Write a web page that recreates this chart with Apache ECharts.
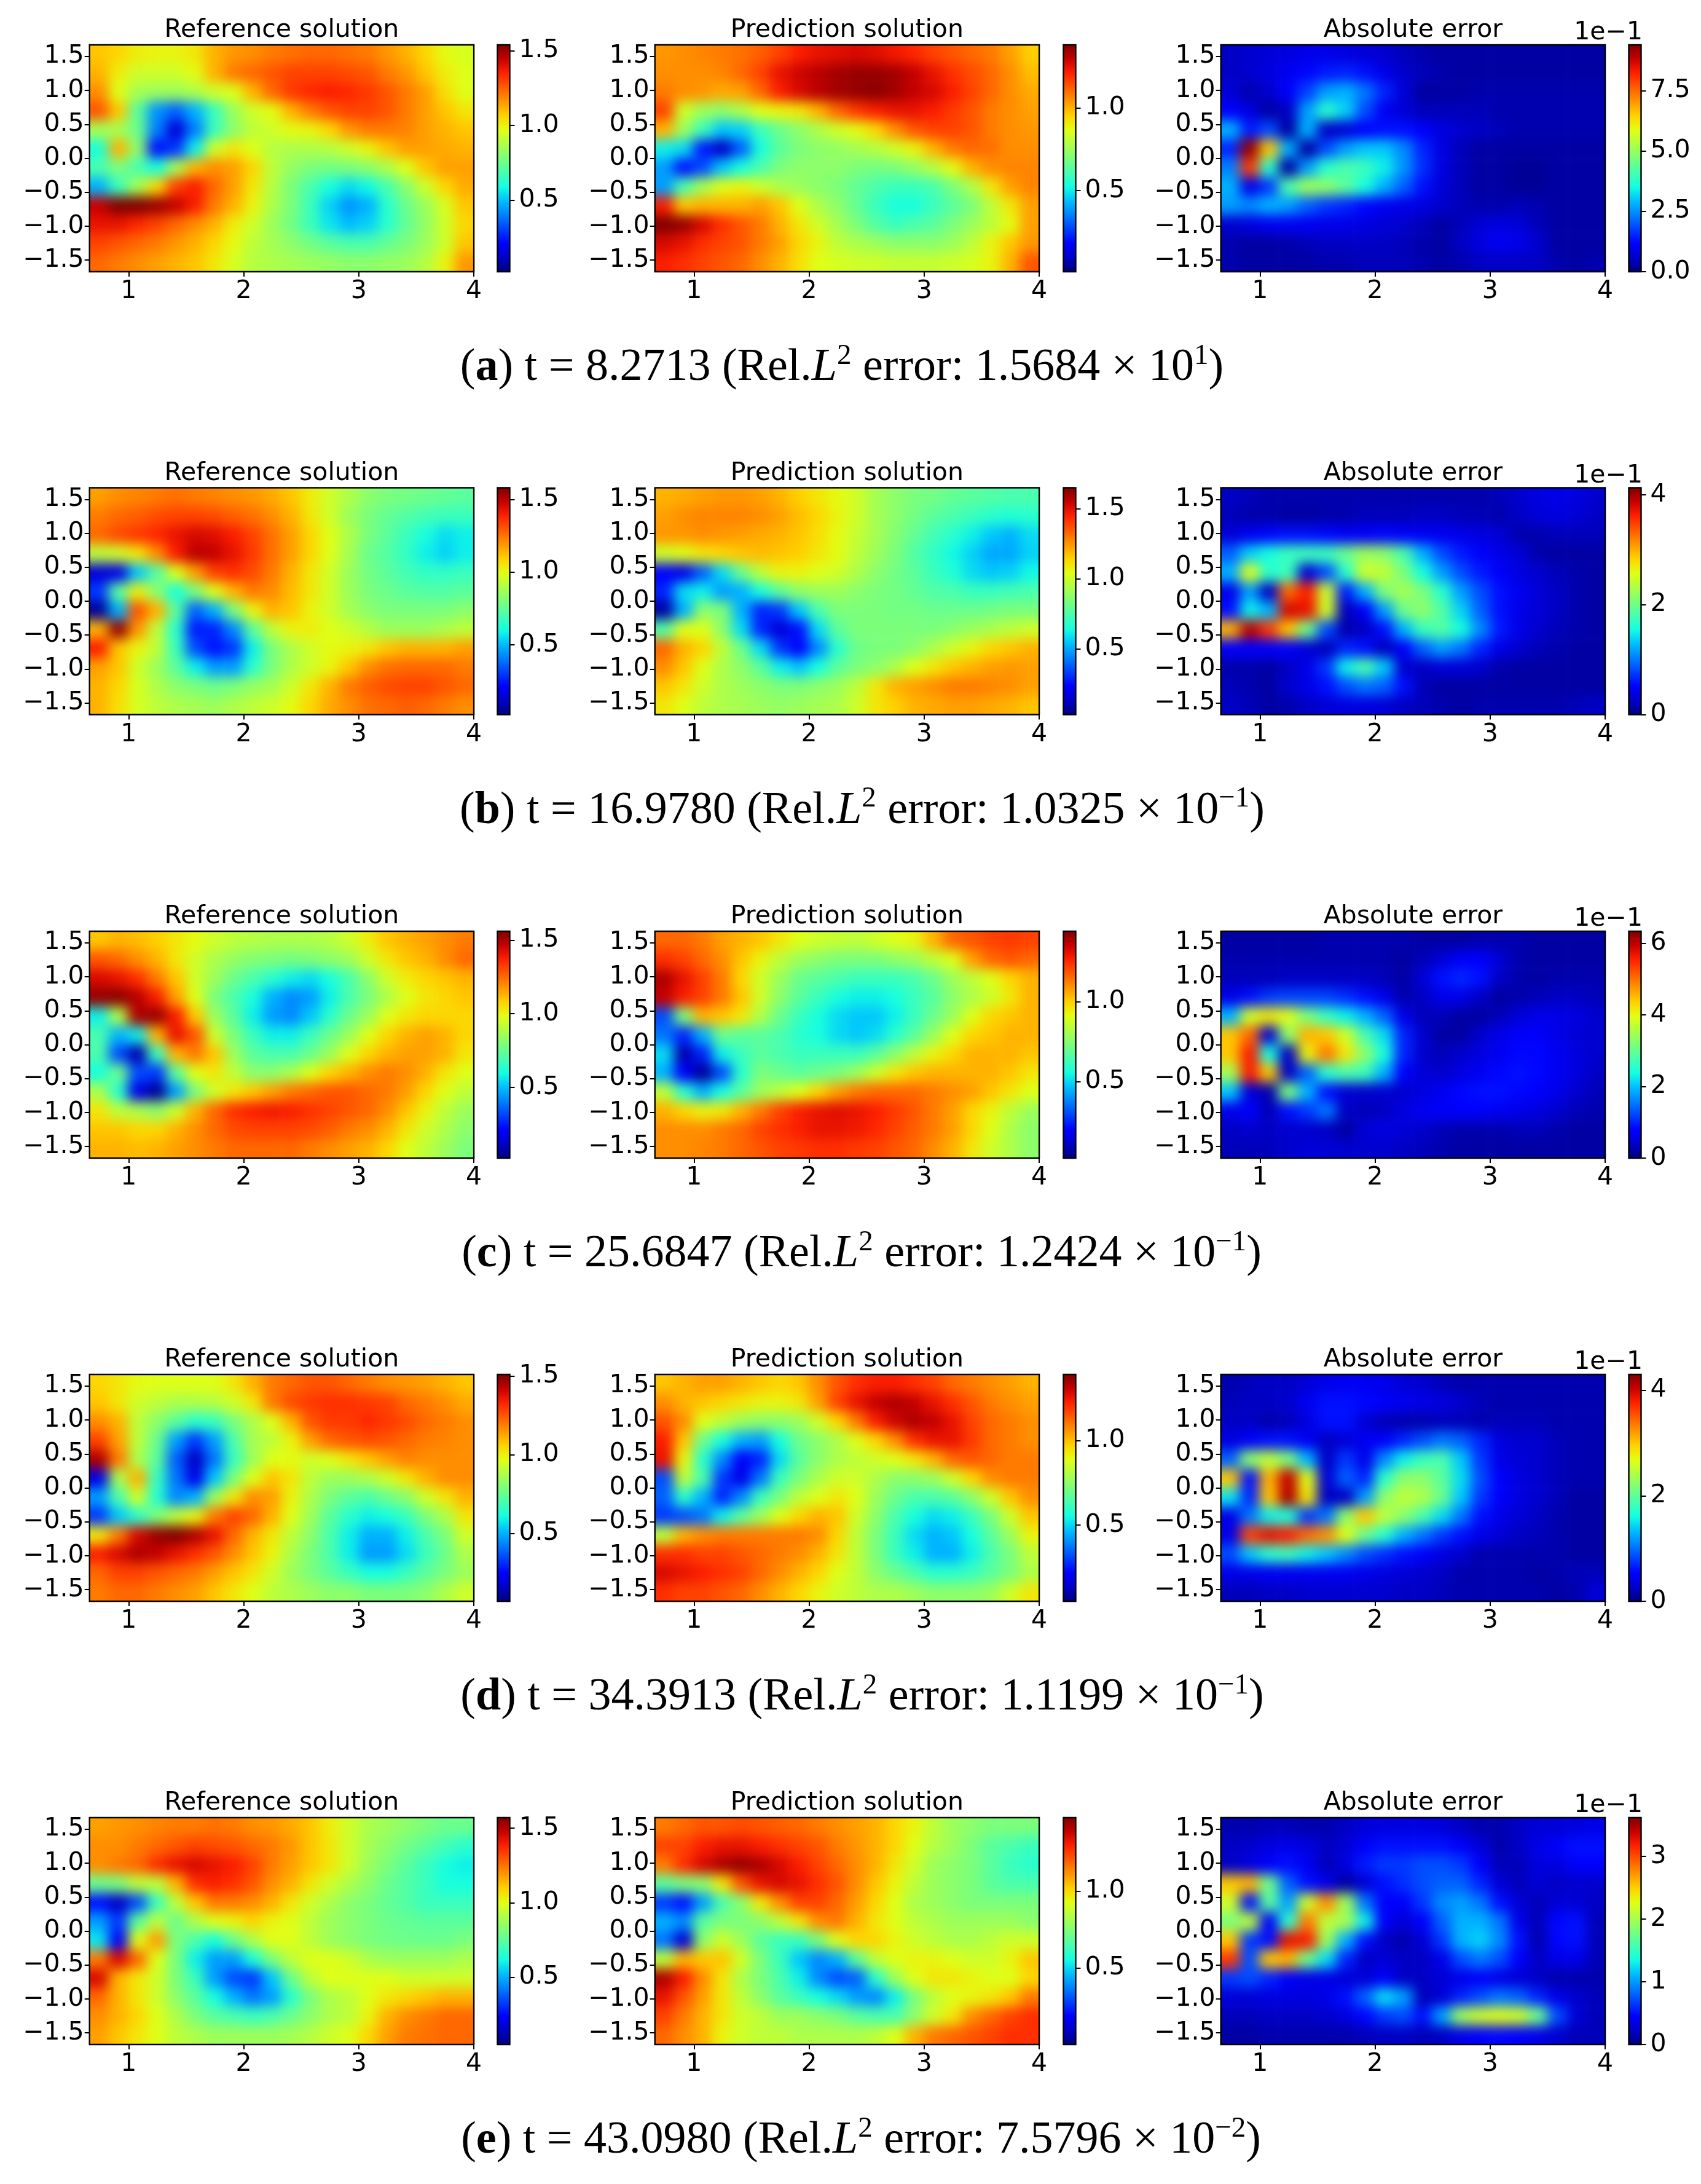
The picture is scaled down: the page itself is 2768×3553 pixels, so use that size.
<!DOCTYPE html>
<html>
<head>
<meta charset="utf-8">
<title>Reference, prediction and absolute error</title>
<script src="https://cdn.jsdelivr.net/npm/echarts@6/dist/echarts.min.js"></script>
<style>
  html, body { margin: 0; padding: 0; background: #fff; overflow: hidden; }
  #clip, #chart { position: absolute; left: 0; top: 0; width: 2768px; height: 3553px; }
  #field { width: 2768px; height: 3553px; filter: blur(10px); }
</style>
</head>
<body>
<div id="clip"><div id="field"></div></div>
<div id="chart"></div>
<script>
const refA = [
[70,68,65,64,64,66,72,75,76,78,79,80,80,79,78,75,72,68,63,61],
[72,65,60,60,60,63,72,78,80,82,84,84,84,83,82,78,75,70,65,62],
[76,62,55,54,54,56,60,62,72,80,85,87,88,87,85,82,78,74,67,62],
[82,70,46,27,22,30,42,54,60,63,72,78,82,84,84,82,78,74,70,66],
[55,55,48,25,8,25,42,52,58,60,63,64,68,75,78,78,77,74,72,70],
[38,72,52,14,18,36,60,66,62,57,56,56,57,60,64,70,74,74,73,72],
[44,50,44,38,55,72,76,74,68,58,53,50,49,50,52,56,62,70,74,74],
[30,42,55,68,84,88,80,74,66,57,50,44,38,34,37,44,52,60,68,73],
[94,100,100,98,94,88,78,72,64,56,50,42,33,27,30,40,48,54,61,70],
[90,90,87,84,80,76,72,65,60,54,49,42,35,31,33,40,47,53,60,68],
[84,82,80,78,75,72,68,63,58,55,52,49,46,44,44,47,50,54,60,70],
[80,78,76,74,72,70,66,61,57,56,55,54,53,52,52,53,54,57,64,75]];
const predA = [
[75,76,77,78,79,81,84,88,90,91,92,91,89,87,84,82,80,78,74,69],
[76,76,76,77,80,84,90,93,95,97,98,98,97,94,90,86,83,80,76,71],
[78,76,75,73,74,80,88,92,95,97,98,99,97,94,92,88,84,80,76,73],
[84,60,54,52,56,62,64,66,72,80,85,88,90,90,88,85,82,78,76,74],
[72,54,42,32,33,42,48,52,56,60,63,68,76,82,84,84,82,78,76,75],
[36,34,15,6,22,38,46,50,52,53,55,57,60,64,72,78,80,79,76,76],
[28,14,20,32,38,44,50,52,52,52,50,49,50,53,57,63,72,76,77,77],
[28,44,55,62,64,60,56,54,52,50,47,44,42,42,44,50,56,66,74,77],
[88,70,72,72,72,74,70,62,56,52,47,42,38,38,42,46,50,58,66,74],
[100,98,92,86,82,78,72,66,60,55,50,45,42,44,46,50,54,58,63,74],
[92,90,86,84,82,78,74,68,64,58,56,54,52,52,52,54,58,64,70,75],
[88,86,84,82,80,76,72,67,62,61,60,60,59,59,59,60,61,64,72,82]];
const errA = [
[6,7,8,9,10,10,9,8,7,5,4,3,3,3,3,3,3,3,3,3],
[6,7,9,11,13,15,16,14,10,7,5,4,3,3,3,3,3,3,3,3],
[8,4,7,12,19,28,30,24,16,8,3,3,3,4,4,4,4,4,4,4],
[12,9,3,6,28,40,33,20,11,8,5,5,5,5,4,4,4,4,4,4],
[30,15,20,3,30,6,8,12,14,14,12,9,7,6,5,4,4,4,4,4],
[16,98,70,30,3,20,28,32,32,26,16,9,5,3,3,3,3,3,3,3],
[25,85,40,3,28,40,44,42,36,27,17,9,5,3,3,2,2,3,3,3],
[30,10,18,44,54,52,46,38,30,22,14,8,5,3,3,2,2,3,3,3],
[28,26,30,28,22,18,16,13,11,10,9,7,5,4,4,5,4,3,3,3],
[7,9,11,11,11,10,10,9,8,7,5,3,5,8,9,8,5,3,3,3],
[4,3,3,4,5,6,6,6,6,5,4,3,6,9,11,10,7,3,3,3],
[4,3,3,3,3,4,4,5,5,5,4,3,4,6,6,6,6,4,3,4]];
const refB = [
[74,76,77,78,79,78,77,76,75,73,70,65,60,56,52,50,49,48,47,46],
[78,80,81,83,84,84,83,81,79,76,72,66,60,54,50,47,45,43,42,42],
[80,83,85,87,90,92,91,88,84,79,74,68,62,56,50,46,42,38,34,36],
[58,60,66,76,88,95,94,90,85,79,74,68,62,55,48,45,41,36,33,36],
[8,10,32,45,62,74,84,86,83,78,72,66,60,54,49,46,43,41,41,42],
[18,46,65,52,38,50,62,72,78,76,71,66,60,54,50,48,46,45,45,46],
[2,30,82,72,46,22,30,50,64,72,70,64,60,55,52,50,50,50,50,52],
[72,98,75,58,40,15,16,26,46,58,64,65,62,60,57,54,54,54,56,58],
[88,70,64,58,42,20,14,18,36,50,56,60,63,64,66,70,72,72,72,74],
[74,70,60,54,46,36,28,28,40,50,56,60,64,70,76,79,80,80,80,78],
[72,68,61,56,52,50,48,50,53,55,60,66,72,78,81,83,84,84,82,80],
[72,67,61,58,56,55,54,56,58,60,63,68,73,76,79,80,81,80,78,76]];
const predB = [
[72,73,74,75,75,74,72,69,66,63,60,55,52,50,49,47,46,45,44,44],
[74,76,77,77,77,76,74,71,68,64,60,55,52,49,46,44,42,40,39,40],
[75,75,76,75,74,73,72,70,67,63,59,55,51,47,43,40,36,32,30,34],
[60,62,66,68,70,71,70,69,66,63,58,54,50,45,41,37,33,29,29,33],
[12,10,22,34,48,58,64,64,62,60,56,52,49,46,42,39,34,32,33,37],
[16,34,36,28,30,38,46,52,54,54,52,50,49,47,45,44,42,42,43,44],
[3,30,52,50,30,16,18,32,44,50,50,50,49,49,48,48,48,49,50,50],
[45,62,62,52,34,16,8,14,34,46,50,50,50,50,50,52,54,56,58,60],
[80,72,68,58,48,34,18,12,26,40,48,50,50,52,56,60,64,68,70,72],
[76,70,62,56,52,46,36,32,38,46,50,52,56,62,66,70,72,74,75,74],
[70,66,60,56,54,52,50,50,52,54,58,66,72,74,76,78,78,77,76,74],
[66,62,58,56,55,54,53,54,55,56,60,66,69,72,73,74,74,73,72,70]];
const errB = [
[6,5,4,4,4,4,4,4,4,4,4,4,4,4,5,7,9,10,9,7],
[5,4,4,3,3,4,4,5,5,5,6,6,5,5,4,6,8,9,8,6],
[8,11,13,14,14,13,12,12,13,12,11,11,10,9,8,4,4,5,5,5],
[22,33,38,42,42,42,48,54,52,44,30,20,15,12,10,8,4,3,3,3],
[30,62,40,42,8,20,40,60,58,50,38,28,20,15,12,9,7,5,4,3],
[10,28,6,80,88,60,15,30,50,55,50,40,28,20,14,11,8,6,4,3],
[14,36,30,92,90,60,5,12,28,48,52,45,33,22,14,10,8,6,4,3],
[72,95,85,70,48,20,4,6,14,30,42,45,38,26,15,10,7,5,4,3],
[12,12,12,12,8,5,16,14,5,12,22,28,24,16,10,7,5,4,3,3],
[4,4,3,6,10,18,36,44,32,7,6,8,8,7,4,3,3,3,3,3],
[5,4,3,7,10,14,20,24,22,14,5,3,3,3,3,3,3,3,3,3],
[6,5,3,4,6,8,9,9,8,6,5,4,3,4,4,4,4,4,5,6]];
const refC = [
[70,72,71,69,66,63,60,58,57,56,56,56,57,60,65,70,72,74,76,78],
[82,80,76,72,66,60,56,53,51,50,49,50,52,54,60,66,70,72,76,80],
[92,90,86,78,70,60,54,48,44,40,36,34,38,44,52,60,65,68,70,72],
[98,99,95,88,74,62,50,44,38,30,26,28,36,44,50,56,62,66,68,70],
[36,56,96,98,88,70,54,46,36,28,26,32,40,48,54,62,66,68,68,68],
[44,30,36,72,90,82,60,50,42,36,36,42,48,54,62,68,72,74,72,68],
[44,20,4,42,72,78,70,54,46,44,44,48,54,62,68,72,74,74,72,66],
[38,48,20,18,46,62,66,58,52,52,56,62,68,72,76,78,76,72,66,62],
[56,40,10,2,28,50,60,66,70,74,78,80,82,82,80,78,74,68,62,58],
[66,58,56,52,60,72,80,86,88,89,88,86,84,82,80,76,70,64,58,54],
[70,70,68,68,72,76,80,83,84,84,84,83,81,78,76,72,66,60,56,52],
[72,72,71,72,74,76,78,80,80,80,80,78,76,74,72,68,62,58,54,50]];
const predC = [
[80,80,78,74,72,70,66,62,60,59,58,60,62,64,72,80,82,84,85,84],
[86,84,80,76,70,64,58,54,52,50,50,50,52,54,58,62,74,80,82,80],
[96,90,84,78,68,60,54,48,46,44,42,42,42,44,48,54,58,62,68,72],
[94,88,84,78,70,60,52,46,42,38,36,36,38,42,46,52,56,60,66,72],
[20,50,72,70,66,56,48,42,38,34,32,32,36,42,48,54,62,68,70,72],
[24,16,30,48,46,46,44,40,38,34,32,34,40,46,54,62,68,70,72,72],
[34,4,16,36,42,46,44,42,42,42,42,46,52,58,64,68,72,72,72,70],
[30,12,2,20,40,50,48,46,48,50,54,60,66,70,72,72,72,72,70,66],
[58,40,30,38,46,54,58,62,68,74,78,80,80,80,78,76,74,70,66,62],
[72,68,64,66,72,78,84,88,90,91,90,88,85,82,78,74,68,64,58,54],
[76,76,76,78,80,84,86,88,90,90,89,87,84,81,78,74,68,62,56,52],
[76,76,77,78,80,82,84,85,86,86,85,84,82,80,76,72,66,60,56,52]];
const errC = [
[3,3,3,3,3,4,4,4,4,4,3,3,3,4,4,4,3,3,3,3],
[4,4,4,4,4,4,4,4,4,3,5,8,12,12,8,4,3,3,3,3],
[5,5,5,6,6,6,6,6,5,3,8,14,16,14,6,4,3,4,4,4],
[10,14,18,19,19,19,17,14,10,4,6,10,10,6,3,4,5,6,6,5],
[30,60,66,62,50,42,36,30,22,10,5,5,3,3,5,8,10,10,9,7],
[70,80,8,52,72,70,60,44,34,16,7,3,3,7,10,12,12,10,8,7],
[70,88,38,6,64,78,66,52,38,16,7,5,7,9,11,13,13,11,9,7],
[55,88,70,6,22,40,44,42,30,12,8,7,9,11,13,14,13,11,9,6],
[32,8,4,50,30,14,8,7,7,7,9,11,13,14,14,13,12,10,7,5],
[10,12,5,14,18,24,6,5,6,9,11,12,12,12,11,10,9,7,5,4],
[6,7,6,7,7,6,3,8,9,8,7,5,4,4,4,5,5,4,3,3],
[5,5,5,7,8,8,7,7,7,6,5,4,3,3,3,3,3,3,3,3]];
const refD = [
[68,66,63,62,62,62,62,66,72,78,80,82,82,80,78,76,75,74,72,70],
[70,66,60,58,56,56,57,60,66,78,83,85,86,86,85,84,80,78,76,73],
[76,72,58,52,46,40,42,50,56,62,72,82,85,85,87,85,83,80,78,76],
[84,74,58,48,28,18,28,44,55,58,64,74,80,82,83,82,80,78,77,76],
[96,78,56,46,22,6,24,42,54,62,63,60,62,66,70,74,77,76,76,76],
[10,55,72,42,24,10,32,50,62,70,66,58,54,54,56,60,66,72,76,76],
[28,44,60,40,26,30,54,66,76,74,64,56,50,46,44,48,52,60,66,72],
[18,32,40,50,58,64,78,84,80,72,62,54,46,40,36,38,42,50,56,66],
[66,78,92,98,100,96,90,80,72,66,58,52,44,36,30,30,36,44,50,60],
[88,92,96,94,90,86,82,76,70,64,56,50,44,36,28,28,34,42,48,56],
[80,84,84,82,80,78,74,70,66,60,54,50,46,42,38,38,42,46,50,54],
[78,80,80,78,76,74,70,66,62,58,56,54,52,52,50,50,50,52,56,60]];
const predD = [
[70,72,74,74,72,70,68,70,76,82,86,88,88,86,84,80,78,76,74,72],
[76,72,70,68,66,64,64,66,74,84,90,94,96,94,90,86,82,78,76,74],
[82,76,62,58,54,52,52,54,60,68,78,88,93,96,94,90,84,80,78,76],
[88,70,48,38,30,28,38,48,52,56,62,68,76,86,90,90,85,80,78,76],
[90,64,40,26,12,16,34,46,52,56,58,60,62,66,72,80,82,80,78,78],
[20,58,44,18,10,24,42,50,56,60,60,56,52,52,54,60,68,76,78,78],
[22,40,30,16,26,42,50,58,62,66,62,54,48,44,44,46,52,60,70,76],
[18,20,24,36,46,54,62,68,72,70,60,52,44,38,34,36,42,50,60,70],
[58,72,76,78,78,78,78,78,76,68,58,50,42,34,30,32,38,46,54,64],
[86,86,84,84,82,80,78,76,72,66,58,50,42,36,30,30,36,44,50,58],
[92,90,88,86,84,80,76,72,68,62,58,52,48,44,40,40,42,46,50,56],
[86,84,84,82,80,76,72,68,64,60,58,56,56,54,52,52,52,54,60,66]];
const errD = [
[4,5,6,6,8,10,11,11,10,8,7,5,4,4,4,4,4,4,4,4],
[5,6,6,7,11,14,14,13,12,11,10,9,7,5,4,4,4,4,4,4],
[6,6,4,5,9,14,14,8,5,4,4,5,5,4,5,5,5,4,4,4],
[9,12,14,14,11,6,8,11,12,16,20,24,22,16,9,7,7,5,4,4],
[22,52,58,50,30,6,18,10,26,36,42,44,32,18,10,8,7,5,4,4],
[70,14,72,94,62,8,22,16,40,52,52,46,34,20,12,9,7,5,4,4],
[35,16,70,96,66,6,6,28,52,58,56,48,32,18,12,9,7,5,3,3],
[10,24,36,38,18,24,52,70,58,52,44,34,24,14,10,8,6,4,3,3],
[10,84,90,88,80,76,62,48,40,30,24,18,14,10,8,6,5,4,3,3],
[20,32,40,42,36,32,26,20,17,14,12,9,7,4,4,4,4,4,3,3],
[10,10,11,11,11,11,11,10,9,8,7,6,4,4,4,4,3,4,5,5],
[5,5,6,6,7,7,7,7,7,6,6,5,4,4,4,4,4,3,4,8]];
const refE = [
[74,75,76,77,78,78,79,78,76,75,73,70,65,60,56,54,52,50,48,48],
[76,76,78,80,82,84,83,82,80,78,75,70,66,60,55,52,49,46,43,40],
[76,78,80,86,90,92,90,88,84,78,74,70,66,60,54,50,46,42,38,36],
[48,50,58,58,72,86,88,86,82,76,72,66,60,56,52,48,45,42,38,38],
[14,6,20,42,58,70,78,78,76,72,66,60,56,52,50,47,45,42,42,42],
[28,18,46,58,48,56,62,64,68,64,62,58,54,52,50,48,47,46,46,46],
[35,12,62,74,50,44,38,48,56,62,62,58,54,52,50,49,48,48,48,50],
[78,92,80,62,50,36,28,28,38,50,58,62,62,60,56,54,54,54,54,56],
[92,72,66,60,50,42,28,20,18,32,48,58,62,62,62,62,60,60,60,60],
[80,72,66,60,52,46,38,30,24,28,40,50,56,58,62,66,68,70,72,72],
[76,72,68,62,56,50,46,44,42,44,48,52,56,58,64,72,76,78,80,80],
[74,70,66,62,58,56,54,54,54,54,55,57,60,62,68,74,78,79,80,80]];
const predE = [
[78,80,82,82,83,82,81,80,78,76,74,72,68,64,58,54,52,50,50,50],
[84,84,88,90,90,88,86,84,82,78,75,72,68,62,57,54,50,46,44,42],
[78,86,92,96,98,96,92,88,84,80,76,72,66,60,54,52,50,46,42,40],
[46,50,52,66,82,90,92,90,86,82,76,70,64,58,54,52,50,46,44,44],
[18,14,28,44,52,66,76,84,84,80,74,68,62,56,54,52,50,50,50,50],
[30,26,46,50,50,52,58,66,76,78,72,66,62,58,56,54,54,54,54,52],
[24,8,52,60,54,46,42,42,50,62,68,68,64,60,58,56,56,58,60,60],
[58,72,70,70,60,50,42,32,26,30,46,58,62,64,64,62,60,60,64,70],
[96,88,76,66,56,50,44,36,26,20,22,40,54,62,66,66,64,62,62,68],
[90,82,74,66,58,52,46,42,38,34,28,26,36,50,58,62,64,66,70,78],
[84,78,72,66,60,58,54,54,52,50,46,44,44,52,60,66,76,80,84,86],
[80,76,72,64,60,58,58,56,56,56,56,58,62,72,78,80,82,84,86,86]];
const errE = [
[4,4,5,5,4,4,6,8,9,9,9,8,6,4,4,6,8,8,9,10],
[6,7,9,10,9,6,8,12,14,14,14,14,12,8,4,6,10,12,14,14],
[6,9,12,14,11,5,9,15,18,18,20,20,18,12,5,5,9,9,12,12],
[70,72,48,22,14,10,3,8,14,17,20,22,22,16,8,5,8,6,7,7],
[60,14,46,28,60,76,54,24,12,12,18,26,28,24,14,8,5,8,8,6],
[50,58,12,40,78,58,55,36,12,8,12,22,30,30,24,10,5,13,14,5],
[70,18,14,90,88,54,30,14,6,4,8,18,30,33,26,14,4,13,14,5],
[85,20,70,72,48,34,16,6,8,6,6,10,20,24,20,12,6,10,10,5],
[18,20,16,12,10,10,8,8,12,6,6,8,10,12,10,8,6,4,4,4],
[8,8,9,9,9,10,14,22,34,28,5,8,16,20,24,22,16,10,7,5],
[5,5,6,6,6,7,9,13,18,20,14,28,54,60,62,60,48,20,8,5],
[3,3,4,4,4,4,4,5,6,6,5,6,10,12,13,12,10,7,5,5]];

const fields = [refA, predA, errA, refB, predB, errB, refC, predC, errC, refD, predD, errD, refE, predE, errE];
// colorbar range of each panel (error panels in units of 1e-1)
const cbMin = [0.02, 0.01, 0, 0.02, 0.03, 0, 0.02, 0.02, 0, 0.07, 0.05, 0, 0.05, 0.00, 0];
const cbMax = [1.54, 1.38, 9.39, 1.58, 1.65, 4.13, 1.56, 1.44, 6.34, 1.51, 1.39, 4.30, 1.57, 1.48, 3.62];
const cbTicks = [
  [0.5, 1.0, 1.5], [0.5, 1.0], [0, 2.5, 5, 7.5],
  [0.5, 1.0, 1.5], [0.5, 1.0, 1.5], [0, 2, 4],
  [0.5, 1.0, 1.5], [0.5, 1.0], [0, 2, 4, 6],
  [0.5, 1.0, 1.5], [0.5, 1.0], [0, 2, 4],
  [0.5, 1.0, 1.5], [0.5, 1.0], [0, 1, 2, 3]
];
const cbDigits = [1, 1, 1, 1, 1, 0, 1, 1, 0, 1, 1, 0, 1, 1, 0];
const panelTitles = ['Reference solution', 'Prediction solution', 'Absolute error'];
const xTicks = [1, 2, 3, 4];
const yTicks = [-1.5, -1, -0.5, 0, 0.5, 1, 1.5];
const letters = ['a', 'b', 'c', 'd', 'e'];
const times = ['8.2713', '16.9780', '25.6847', '34.3913', '43.0980'];
const errMant = ['1.5684', '1.0325', '1.2424', '1.1199', '7.5796'];
const errExp = ['1', '\u22121', '\u22121', '\u22121', '\u22122'];
const captionCx = [1370, 1403, 1402, 1403, 1401];

const jet = ['#000080','#0000c8','#0000ff','#0040ff','#0080ff','#00bfff','#14ffe2','#48ffaf','#7bff7b',
  '#afff48','#e2ff14','#ffd200','#ff9700','#ff5c00','#ff2100','#c80000','#800000'];

const panelX = [145.7, 1065.7, 1986.7];
const panelW = 625.4;
const rowY = [73, 793.5, 1515, 2236, 2957];
const panelH = 369;
const barX = [809.5, 1730.5, 2650.5];
const barW = 20;
const font = 'DejaVu Sans';

// heat layer, one cell of margin on each side so the smoothing does not fade at the frame
const heatGrids = [], heatX = [], heatY = [], heatSeries = [], heatMaps = [];
let clipPath = '';
fields.forEach((rows, i) => {
  const col = i % 3, row = Math.floor(i / 3);
  const nx = rows[0].length, ny = rows.length;
  const cw = panelW / nx, ch = panelH / ny;
  heatGrids.push({left: panelX[col] - cw, top: rowY[row] - ch, width: panelW + 2 * cw, height: panelH + 2 * ch});
  heatX.push({type: 'category', gridIndex: i, show: false, data: Array.from({length: nx + 2}, (_, k) => k)});
  heatY.push({type: 'category', gridIndex: i, show: false, data: Array.from({length: ny + 2}, (_, k) => k)});
  const cells = [];
  for (let r = -1; r <= ny; r++) {
    for (let c = -1; c <= nx; c++) {
      const lev = rows[Math.min(ny - 1, Math.max(0, r))][Math.min(nx - 1, Math.max(0, c))];
      cells.push([c + 1, ny - r, cbMin[i] + lev / 100 * (cbMax[i] - cbMin[i])]);
    }
  }
  heatSeries.push({type: 'heatmap', xAxisIndex: i, yAxisIndex: i, data: cells, progressive: 0, animation: false, silent: true});
  heatMaps.push({type: 'continuous', show: false, seriesIndex: i, min: cbMin[i], max: cbMax[i], inRange: {color: jet}});
  clipPath += `M${panelX[col]} ${rowY[row]}h${panelW}v${panelH}h${-panelW}z`;
});
document.getElementById('clip').style.clipPath = `path("${clipPath}")`;

const heatChart = echarts.init(document.getElementById('field'), null, {width: 2768, height: 3553});
heatChart.setOption({animation: false, grid: heatGrids, xAxis: heatX, yAxis: heatY, series: heatSeries, visualMap: heatMaps});

// axes, colorbars and text on top
const grids = [], xAxes = [], yAxes = [], bars = [], titles = [], texts = [];
const minusFmt = d => v => Number(v).toFixed(d).replace('-', '\u2212');
const lineStyle = {color: '#000', width: 2};
const labelStyle = {color: '#000', fontFamily: font, fontSize: 41};

fields.forEach((rows, i) => {
  const col = i % 3, row = Math.floor(i / 3);
  grids.push({show: true, backgroundColor: 'transparent', borderColor: '#000', borderWidth: 2.4, z: 10,
    left: panelX[col], top: rowY[row], width: panelW, height: panelH});
  xAxes.push({type: 'value', gridIndex: grids.length - 1, min: 0.66, max: 4,
    axisLine: {show: false, onZero: false}, splitLine: {show: false},
    axisTick: {show: true, length: 8, lineStyle: lineStyle, customValues: xTicks},
    axisLabel: Object.assign({margin: 12, customValues: xTicks, formatter: minusFmt(0)}, labelStyle)});
  yAxes.push({type: 'value', gridIndex: grids.length - 1, min: -1.67, max: 1.67,
    axisLine: {show: false, onZero: false}, splitLine: {show: false},
    axisTick: {show: true, length: 8, lineStyle: lineStyle, customValues: yTicks},
    axisLabel: Object.assign({margin: 9, customValues: yTicks, formatter: minusFmt(1)}, labelStyle)});

  // colorbar frame and its ticks
  grids.push({show: true, backgroundColor: 'transparent', borderColor: '#000', borderWidth: 2.4, z: 10,
    left: barX[col], top: rowY[row], width: barW, height: panelH});
  xAxes.push({type: 'value', gridIndex: grids.length - 1, min: 0, max: 1, show: false});
  yAxes.push({type: 'value', gridIndex: grids.length - 1, position: 'right', min: cbMin[i], max: cbMax[i],
    axisLine: {show: false, onZero: false}, splitLine: {show: false},
    axisTick: {show: true, length: 8, lineStyle: lineStyle, customValues: cbTicks[i]},
    axisLabel: Object.assign({margin: 15, customValues: cbTicks[i], formatter: minusFmt(cbDigits[i])}, labelStyle)});
  bars.push({type: 'continuous', seriesIndex: [], min: cbMin[i], max: cbMax[i], calculable: false, realtime: false,
    hoverLink: false, padding: 0, itemWidth: barW, itemHeight: panelH, left: barX[col], top: rowY[row],
    inRange: {color: jet}, text: null});

  titles.push({text: panelTitles[col], left: panelX[col] + panelW / 2, textAlign: 'center', top: rowY[row] - 44, padding: 0,
    textStyle: {color: '#000', fontFamily: font, fontSize: 41, fontWeight: 'normal'}});
  if (col === 2) {
    texts.push({type: 'text', x: 2673, y: rowY[row] - 40, style: {text: '1e\u22121', fill: '#000', font: '41px "' + font + '"', textAlign: 'right'}});
  }
});

const serif = 'Liberation Serif';
letters.forEach((l, r) => {
  const cap = `{t|(}{b|${l}}{t|) t = ${times[r]} (Rel.}{i|L}{s|2}{t| error: ${errMant[r]} \u00d7 10}{s|${errExp[r]}}{t|)}`;
  titles.push({text: cap, left: captionCx[r], textAlign: 'center', top: rowY[r] + 483, padding: 0,
    textStyle: {fontWeight: 'normal', rich: {
      t: {fontFamily: serif, fontSize: 74, fontWeight: 'normal', lineHeight: 80, color: '#000', verticalAlign: 'bottom'},
      b: {fontFamily: serif, fontSize: 74, fontWeight: 'bold', lineHeight: 80, color: '#000', verticalAlign: 'bottom'},
      i: {fontFamily: serif, fontSize: 74, fontWeight: 'normal', fontStyle: 'italic', lineHeight: 80, color: '#000', verticalAlign: 'bottom'},
      s: {fontFamily: serif, fontSize: 47, fontWeight: 'normal', lineHeight: 80, color: '#000', verticalAlign: 'top'}
    }}});
});

const chart = echarts.init(document.getElementById('chart'), null, {width: 2768, height: 3553});
chart.setOption({
  animation: false,
  backgroundColor: 'transparent',
  title: titles,
  grid: grids,
  xAxis: xAxes,
  yAxis: yAxes,
  visualMap: bars,
  graphic: texts,
  series: []
});
</script>
</body>
</html>
